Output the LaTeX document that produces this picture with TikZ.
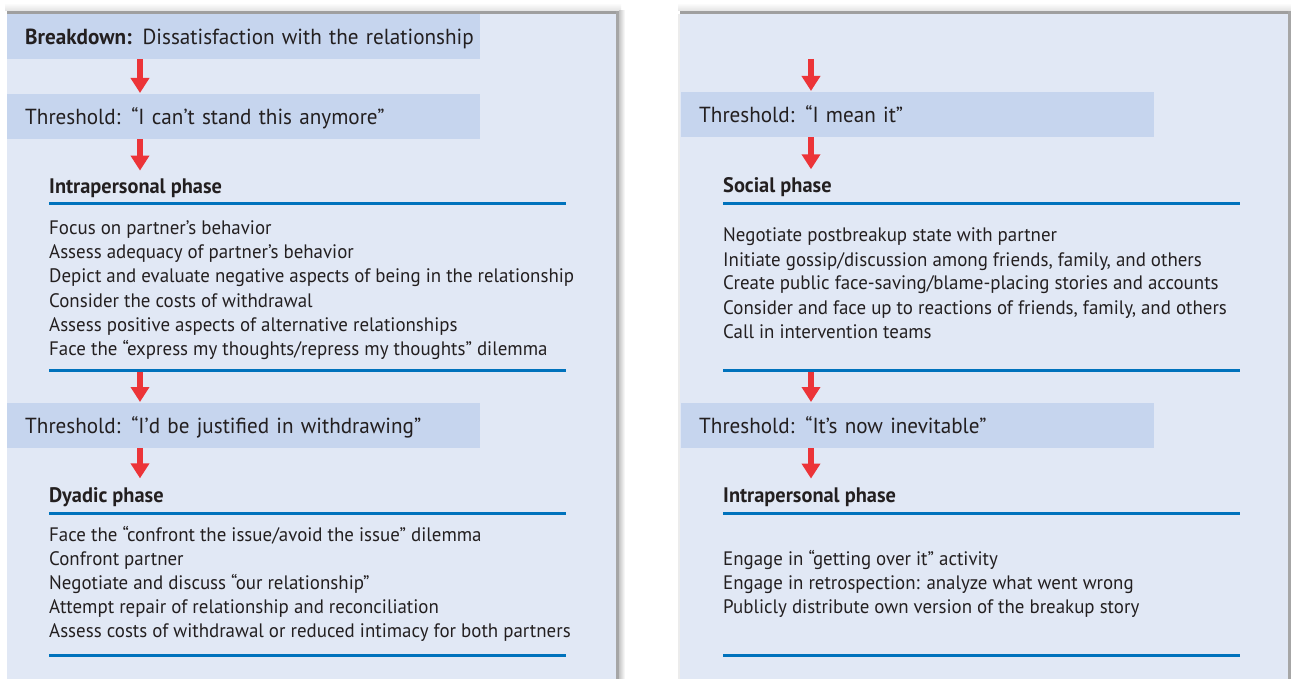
\documentclass[tikz,border=0pt]{standalone}
\usepackage{fontspec}
\usetikzlibrary{arrows.meta}
\newfontfamily\probefont{PT Sans}
\newlength\probelen
\settowidth\probelen{\probefont\fontsize{19.5pt}{24pt}\selectfont Depict and evaluate negative aspects of being in the relationship}
\pgfmathsetmacro\stretchratio{525/\probelen}
\edef\dosetfont{\noexpand\setmainfont{PT Sans}[FakeStretch=\stretchratio]}
\dosetfont
\definecolor{panelc}{RGB}{225,232,245}
\definecolor{bandc}{RGB}{198,213,238}
\definecolor{bluec}{RGB}{0,114,188}
\definecolor{redc}{RGB}{236,52,56}
\definecolor{txtc}{RGB}{35,31,32}
\begin{document}
\begin{tikzpicture}[x=1pt,y=-1pt,
  band/.style={fill=bandc, anchor=north west, minimum width=473pt, minimum height=45pt,
    inner xsep=18pt, inner ysep=0pt, text width=437pt, align=left,
    font=\fontsize{21.8pt}{26pt}\selectfont, text height=15.5pt, text depth=0pt, text=txtc},
  head/.style={anchor=base west, inner xsep=0pt, inner ysep=7.5pt,
    font=\bfseries\fontsize{21pt}{24pt}\selectfont, text=txtc},
  item/.style={anchor=base west, inner sep=0pt, font=\fontsize{19.5pt}{24pt}\selectfont, text=txtc},
  rulel/.style={draw=bluec, line width=3pt},
  arr/.style={draw=redc, line width=6pt, -{Triangle[width=18pt,length=15pt]}, shorten >=1pt}]
\useasboundingbox (0,0) rectangle (1291,679);
\fill[white] (0,0) rectangle (1291,679);
% panels
\shade[top color=white, bottom color=gray!22] (5,3) rectangle (621,11);
\shade[top color=white, bottom color=gray!22] (678,3) rectangle (1291,11);
\fill[panelc] (7,14) rectangle (617,679);
\fill[panelc] (680,14) rectangle (1288,679);
\draw[gray!75, line width=2.5pt] (7,12.5) -- (619,12.5);
\draw[gray!75, line width=2.5pt] (680,12.5) -- (1291,12.5);
\fill[gray!70] (616,11) rectangle (619,679);
\shade[left color=gray!45, right color=white] (619,11) rectangle (625,679);
\fill[gray!70] (1288,11) rectangle (1291,679);
\draw[gray!15, line width=1.5pt] (679,14) -- (679,679);
\coordinate (axL) at (140,0);
\coordinate (axR) at (811,0);
% ---------- left column ----------
\node[band] (b1) at (7,14) {\mbox{\textbf{Breakdown:} Dissatisfaction with the relationship}};
\node[band] (b2) at (7,94) {\mbox{Threshold: “I can’t stand this anymore”}};
\node[head] (h1) at (49,194) {Intrapersonal phase};
\draw[rulel] (49,204) -- (566,204);
\node[item] (l1) at (49,235) {Focus on partner’s behavior};
\node[item] (l2) at (49,259) {Assess adequacy of partner’s behavior};
\node[item] (l3) at (49,283) {Depict and evaluate negative aspects of being in the relationship};
\node[item] (l4) at (49,307) {Consider the costs of withdrawal};
\node[item] (l5) at (49,331) {Assess positive aspects of alternative relationships};
\node[item] (l6) at (49,355) {Face the “express my thoughts/repress my thoughts” dilemma};
\draw[rulel] (49,370) -- (566,370);
\coordinate (r2) at (140,371.5);
\node[band] (b3) at (7,403) {\mbox{Threshold: “I’d be justified in withdrawing”}};
\node[head] (h2) at (49,502) {Dyadic phase};
\draw[rulel] (49,513) -- (566,513);
\node[item] (d1) at (49,541) {Face the “confront the issue/avoid the issue” dilemma};
\node[item] (d2) at (49,565) {Confront partner};
\node[item] (d3) at (49,589) {Negotiate and discuss “our relationship”};
\node[item] (d4) at (49,613) {Attempt repair of relationship and reconciliation};
\node[item] (d5) at (49,637) {Assess costs of withdrawal or reduced intimacy for both partners};
\draw[rulel] (49,655) -- (566,655);
\draw[arr] (b1.south -| axL) -- (b2.north -| axL);
\draw[arr] (b2.south -| axL) -- (h1.north -| axL);
\draw[arr] (r2) -- (b3.north -| axL);
\draw[arr] (b3.south -| axL) -- (h2.north -| axL);
% ---------- right column ----------
\coordinate (sR) at (811,59);
\node[band] (b4) at (681,92) {\mbox{Threshold: “I mean it”}};
\node[head] (h3) at (723,193) {Social phase};
\draw[rulel] (723,204) -- (1240,204);
\node[item] (s1) at (723,242) {Negotiate postbreakup state with partner};
\node[item] (s2) at (723,266) {Initiate gossip/discussion among friends, family, and others};
\node[item] (s3) at (723,290) {Create public face-saving/blame-placing stories and accounts};
\node[item] (s4) at (723,314) {Consider and face up to reactions of friends, family, and others};
\node[item] (s5) at (723,338) {Call in intervention teams};
\draw[rulel] (723,370) -- (1240,370);
\coordinate (r6) at (811,371.5);
\node[band] (b5) at (681,403) {\mbox{Threshold: “It’s now inevitable”}};
\node[head] (h4) at (723,502) {Intrapersonal phase};
\draw[rulel] (723,513) -- (1240,513);
\node[item] (g1) at (723,565) {Engage in “getting over it” activity};
\node[item] (g2) at (723,589) {Engage in retrospection: analyze what went wrong};
\node[item] (g3) at (723,613) {Publicly distribute own version of the breakup story};
\draw[rulel] (723,655) -- (1240,655);
\draw[arr] (sR) -- (b4.north -| axR);
\draw[arr] (b4.south -| axR) -- (h3.north -| axR);
\draw[arr] (r6) -- (b5.north -| axR);
\draw[arr] (b5.south -| axR) -- (h4.north -| axR);
\end{tikzpicture}
\end{document}
